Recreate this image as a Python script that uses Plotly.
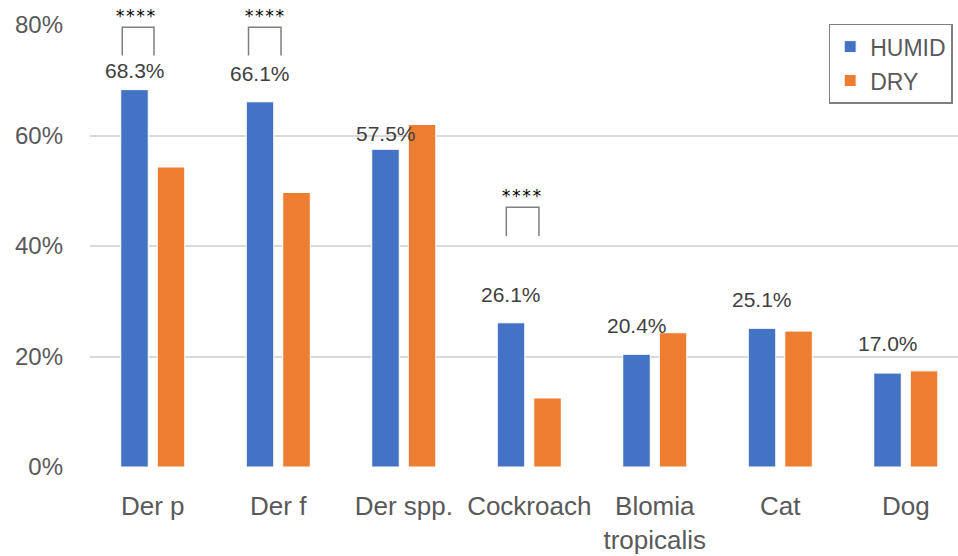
import plotly.graph_objects as go

# ---- data ----
categories = ["Der p", "Der f", "Der spp.", "Cockroach", "Blomia<br>tropicalis", "Cat", "Dog"]
humid = [0.683, 0.661, 0.575, 0.261, 0.204, 0.251, 0.170]
dry = [0.543, 0.497, 0.620, 0.125, 0.243, 0.246, 0.174]
humid_labels = ["68.3%", "66.1%", "57.5%", "26.1%", "20.4%", "25.1%", "17.0%"]

# significance markers: category index, bracket top/bottom (data units), star text
sig_cats = [0, 1, 3]
sig_top = [0.796, 0.796, 0.470]
sig_bottom = [0.745, 0.745, 0.418]
sig_text = ["****", "****", "****"]

# ---- styling / placement (not data) ----
label_yshift = [6, 15, 2, 15, 15, 15, 16]
bracket_left = [-0.243, -0.237, -0.183]
bracket_right = [0.010, 0.022, 0.077]
star_dx = [-0.135, -0.109, -0.058]

BLUE = "#4472C4"
ORANGE = "#ED7D31"
GREY = "#595959"
FONT = "Liberation Sans, Arial, sans-serif"

fig = go.Figure()
fig.add_trace(go.Bar(name="HUMID", x=categories, y=humid, marker=dict(color=BLUE, line=dict(color="white", width=1)),
                     legendgroup="h"))
fig.add_trace(go.Bar(name="DRY", x=categories, y=dry, marker=dict(color=ORANGE, line=dict(color="white", width=1)),
                     legendgroup="d"))

annotations = []
for c, v, t, ys in zip(categories, humid, humid_labels, label_yshift):
    annotations.append(dict(x=c, y=v, xref="x", yref="y", text=t, showarrow=False,
                            xshift=-18, yshift=ys, yanchor="bottom",
                            font=dict(family=FONT, size=21, color="#404040")))

shapes = []
for i, ci in enumerate(sig_cats):
    x0 = ci + bracket_left[i]
    x1 = ci + bracket_right[i]
    shapes.append(dict(type="path", xref="x", yref="y",
                       path=f"M {x0},{sig_bottom[i]} L {x0},{sig_top[i]} L {x1},{sig_top[i]} L {x1},{sig_bottom[i]}",
                       line=dict(color="#7f7f7f", width=1.5)))
    annotations.append(dict(x=ci + star_dx[i], y=sig_top[i], xref="x", yref="y",
                            text=sig_text[i], showarrow=False, yanchor="bottom", yshift=-1,
                            font=dict(family="DejaVu Sans Mono, monospace", size=17, color="black")))

fig.update_layout(
    width=958, height=556,
    margin=dict(l=90, r=0, t=25, b=89),
    paper_bgcolor="white", plot_bgcolor="white",
    barmode="group", bargap=0.418, bargroupgap=0.247,
    font=dict(family=FONT, color=GREY),
    showlegend=True,
    legend=dict(x=0.851, y=1.003, xanchor="left", yanchor="top",
                bordercolor="#7f7f7f", borderwidth=1.5,
                font=dict(family=FONT, size=23, color=GREY),
                tracegroupgap=1, traceorder="grouped", itemwidth=30,
                bgcolor="white"),
    annotations=annotations,
    shapes=shapes,
)
fig.update_xaxes(type="category", range=[-0.5, 6.416], showgrid=False, showline=False, zeroline=False,
                 automargin=False,
                 tickfont=dict(family=FONT, size=26, color=GREY), ticks="", ticklabelstandoff=21)
fig.update_yaxes(range=[0, 0.8], dtick=0.2, tickformat=".0%", showgrid=True, gridcolor="#d9d9d9",
                 gridwidth=1.5, zeroline=False, showline=False, automargin=False,
                 tickfont=dict(family=FONT, size=24, color=GREY), ticks="", ticklabelstandoff=26)

fig.write_html("out.html", config={"displayModeBar": False},
               post_script="document.body.style.margin='0';")
